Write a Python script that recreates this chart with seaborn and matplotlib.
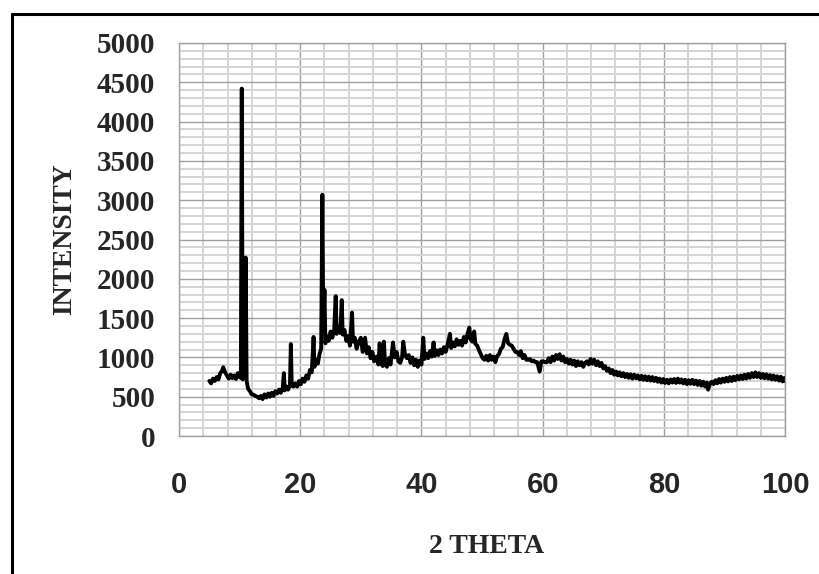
import matplotlib
matplotlib.use("Agg")
import matplotlib.pyplot as plt
from matplotlib.ticker import MultipleLocator
from matplotlib.lines import Line2D
import seaborn as sns

# XRD pattern (2 theta in degrees, counts)
two_theta = [
    5.0, 5.3, 5.6, 5.9, 6.2, 6.5, 6.8, 7.1, 7.3, 7.6,
    7.9, 8.2, 8.5, 8.8, 9.1, 9.4, 9.7, 10.0, 10.2, 10.35,
    10.5, 10.7, 10.85, 11.0, 11.15, 11.4, 11.7, 12.0, 12.3, 12.6,
    12.9, 13.2, 13.5, 13.8, 14.1, 14.4, 14.7, 15.0, 15.3, 15.6,
    15.9, 16.2, 16.5, 16.8, 17.1, 17.3, 17.45, 17.7, 18.0, 18.3,
    18.45, 18.6, 18.9, 19.2, 19.5, 19.8, 20.1, 20.4, 20.7, 21.0,
    21.3, 21.6, 21.9, 22.2, 22.35, 22.6, 22.9, 23.2, 23.45, 23.65,
    23.8, 24.0, 24.15, 24.4, 24.7, 25.0, 25.3, 25.6, 25.85, 26.0,
    26.3, 26.6, 26.85, 27.0, 27.3, 27.6, 27.9, 28.2, 28.55, 28.7,
    29.0, 29.3, 29.6, 30.0, 30.3, 30.7, 31.0, 31.3, 31.6, 31.9,
    32.2, 32.6, 32.9, 33.1, 33.3, 33.6, 33.8, 34.0, 34.3, 34.6,
    34.9, 35.3, 35.6, 35.9, 36.2, 36.5, 36.8, 37.0, 37.3, 37.6,
    37.9, 38.2, 38.5, 38.8, 39.1, 39.4, 39.7, 40.0, 40.3, 40.5,
    40.8, 41.1, 41.4, 41.7, 42.0, 42.2, 42.5, 42.8, 43.1, 43.4,
    43.7, 44.0, 44.3, 44.7, 44.9, 45.2, 45.5, 45.8, 46.1, 46.4,
    46.7, 47.0, 47.3, 47.6, 47.9, 48.1, 48.4, 48.7, 48.9, 49.2,
    49.5, 49.8, 50.1, 50.4, 50.7, 51.0, 51.3, 51.6, 51.9, 52.2,
    52.5, 52.8, 53.1, 53.4, 53.7, 54.0, 54.3, 54.6, 54.9, 55.2,
    55.5, 55.8, 56.1, 56.4, 56.7, 57.0, 57.3, 57.6, 57.9, 58.2,
    58.5, 58.8, 59.1, 59.5, 59.8, 60.1, 60.4, 60.7, 61.0, 61.3,
    61.6, 61.9, 62.2, 62.5, 62.8, 63.1, 63.4, 63.7, 64.0, 64.3,
    64.6, 64.9, 65.2, 65.5, 65.8, 66.1, 66.4, 66.7, 67.0, 67.3,
    67.6, 67.9, 68.2, 68.5, 68.8, 69.1, 69.4, 69.7, 70.0, 70.3,
    70.6, 70.9, 71.2, 71.5, 71.8, 72.1, 72.4, 72.7, 73.0, 73.3,
    73.6, 73.9, 74.2, 74.5, 74.8, 75.1, 75.4, 75.7, 76.0, 76.3,
    76.6, 76.9, 77.2, 77.5, 77.8, 78.1, 78.4, 78.7, 79.0, 79.3,
    79.6, 79.9, 80.2, 80.5, 80.8, 81.1, 81.4, 81.7, 82.0, 82.3,
    82.6, 82.9, 83.2, 83.5, 83.8, 84.1, 84.4, 84.7, 85.0, 85.3,
    85.6, 85.9, 86.2, 86.5, 86.8, 87.1, 87.3, 87.6, 87.9, 88.2,
    88.5, 88.8, 89.1, 89.4, 89.7, 90.0, 90.3, 90.6, 90.9, 91.2,
    91.5, 91.8, 92.1, 92.4, 92.7, 93.0, 93.3, 93.6, 93.9, 94.2,
    94.5, 94.8, 95.1, 95.4, 95.7, 96.0, 96.3, 96.6, 96.9, 97.2,
    97.5, 97.8, 98.1, 98.4, 98.7, 99.0, 99.3, 99.6, 99.9, 100.0,
]
intensity = [
    700, 670, 730, 700, 750, 720, 800, 830, 875, 810,
    770, 730, 780, 735, 770, 725, 800, 750, 740, 4420,
    720, 750, 760, 2270, 700, 600, 570, 530, 525, 510,
    500, 480, 510, 470, 530, 490, 540, 500, 550, 510,
    570, 540, 590, 550, 610, 800, 580, 630, 590, 650,
    1170, 640, 630, 670, 630, 700, 660, 730, 690, 770,
    730, 840, 810, 1260, 880, 970, 920, 1050, 1110, 3070,
    1400, 1860, 1180, 1270, 1210, 1330, 1250, 1350, 1780, 1300,
    1390, 1310, 1730, 1290, 1350, 1210, 1270, 1150, 1570, 1200,
    1250, 1110, 1190, 1250, 1070, 1250, 1050, 1130, 990, 1070,
    950, 1010, 910, 1180, 960, 890, 1200, 920, 880, 990,
    910, 1190, 1000, 1070, 950, 930, 1000, 1200, 1030, 990,
    1030, 930, 1000, 900, 970, 880, 960, 910, 1250, 980,
    1050, 990, 1080, 1010, 1190, 1020, 1090, 1030, 1100, 1050,
    1130, 1070, 1160, 1300, 1120, 1190, 1140, 1230, 1160, 1210,
    1150, 1260, 1190, 1300, 1380, 1230, 1200, 1330, 1170, 1150,
    1090, 1040, 990, 970, 1020, 960, 1030, 970, 1010, 940,
    1020, 1040, 1110, 1130, 1230, 1300, 1180, 1160, 1150, 1110,
    1070, 1070, 1030, 1080, 990, 1030, 970, 970, 980, 950,
    960, 940, 940, 820, 950, 950, 940, 940, 990, 940,
    1010, 960, 1030, 980, 1040, 960, 1010, 940, 980, 920,
    970, 910, 960, 890, 950, 900, 940, 880, 930, 950,
    910, 980, 920, 970, 900, 950, 890, 930, 860, 890,
    830, 860, 800, 840, 780, 820, 770, 810, 760, 800,
    750, 790, 740, 785, 730, 780, 735, 770, 720, 765,
    715, 760, 710, 755, 705, 750, 700, 740, 690, 730,
    680, 725, 675, 715, 670, 720, 680, 725, 675, 730,
    680, 720, 670, 715, 660, 710, 665, 715, 660, 705,
    650, 700, 640, 690, 630, 680, 590, 670, 690, 660,
    710, 670, 725, 680, 730, 690, 740, 695, 750, 700,
    755, 710, 765, 720, 770, 725, 780, 730, 790, 740,
    800, 750, 810, 750, 800, 740, 790, 735, 785, 730,
    775, 720, 770, 715, 760, 705, 755, 695, 740, 700,
]

sns.set_style("white")
serif = ["Liberation Serif", "DejaVu Serif"]
sans = ["Liberation Sans", "DejaVu Sans"]

fig = plt.figure(figsize=(8.19, 5.74), dpi=100)
ax = fig.add_axes([0.2186, 0.2404, 0.740, 0.6847])

sns.lineplot(x=two_theta, y=intensity, color="black", linewidth=2.8,
             sort=False, estimator=None, ax=ax)

ax.set_xlim(0, 100)
ax.set_ylim(0, 5000)
ax.xaxis.set_major_locator(MultipleLocator(20))
ax.xaxis.set_minor_locator(MultipleLocator(4))
ax.yaxis.set_major_locator(MultipleLocator(500))
ax.yaxis.set_minor_locator(MultipleLocator(100))

ax.grid(which="minor", color="#d4d4d4", linewidth=1.4)
ax.grid(which="major", color="#a0a0a0", linewidth=1.0)
ax.set_axisbelow(True)

for side in ["left", "bottom", "top", "right"]:
    ax.spines[side].set_color("#a0a0a0")
    ax.spines[side].set_linewidth(1.0)

ax.tick_params(which="major", direction="out", length=6, width=1, color="#909090")
ax.tick_params(which="minor", length=0)
ax.tick_params(axis="x", pad=19)
ax.tick_params(axis="y", pad=11)

for lbl in ax.get_yticklabels():
    lbl.set_fontfamily(serif)
    lbl.set_fontweight("bold")
    lbl.set_fontsize(21)
for lbl in ax.get_xticklabels():
    lbl.set_fontfamily(sans)
    lbl.set_fontweight("bold")
    lbl.set_fontsize(21)

ax.set_xlabel("2 THETA", family=serif, fontweight="bold", fontsize=20)
ax.set_ylabel("INTENSITY", family=serif, fontweight="bold", fontsize=20)
ax.xaxis.set_label_coords(0.507, -0.25)
ax.yaxis.set_label_coords(-0.168, 0.5)

# chart border (left and top visible in the crop)
fig.add_artist(Line2D([12 / 819, 12 / 819], [0, 1 - 14 / 574], color="black",
                      linewidth=2.2, transform=fig.transFigure))
fig.add_artist(Line2D([12 / 819, 1], [1 - 14 / 574, 1 - 14 / 574], color="black",
                      linewidth=2.2, transform=fig.transFigure))

fig.savefig("out.png", dpi=100)
